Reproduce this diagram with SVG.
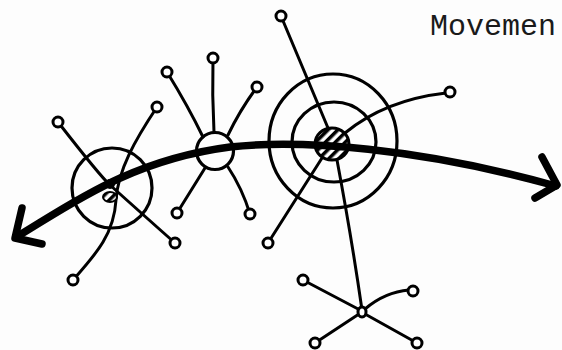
<svg xmlns="http://www.w3.org/2000/svg" width="562" height="350" viewBox="0 0 562 350">
<style>
.ln{fill:none;stroke:#000;stroke-width:3;stroke-linecap:round;stroke-linejoin:round}
.ring{fill:none;stroke:#000;stroke-width:3.2}
.end{fill:#fff;stroke:#000;stroke-width:3}
.main{fill:none;stroke:#000;stroke-width:7.5;stroke-linecap:round;stroke-linejoin:round}
.txt{font-family:"Liberation Mono","Courier New",monospace;font-size:30px;fill:#1a1a1a}
</style>
<defs>
<pattern id="hatch" width="7" height="7" patternUnits="userSpaceOnUse" patternTransform="rotate(45)">
<rect width="7" height="7" fill="#fff"/>
<rect width="3.5" height="7" fill="#000"/>
</pattern>
</defs>
<rect width="562" height="350" fill="#fdfdfd"/>
<text class="txt" x="430" y="35">Movemen</text>

<g id="connectors">
<path class="ln" d="M58,122 Q100,176 110,185 Q140,212 175,243"/>
<path class="ln" d="M157,107 C135,140 118,170 116,200 C114,235 95,255 73,280"/>
<path class="ln" d="M167,72 Q188,106 203,137"/>
<path class="ln" d="M213,58 Q212,95 214,132"/>
<path class="ln" d="M257,87 Q240,110 228,135"/>
<path class="ln" d="M205,168 Q190,192 177,213"/>
<path class="ln" d="M228,167 Q242,188 250,214"/>
<path class="ln" d="M281,16 L328,128"/>
<path class="ln" d="M345,133 Q385,100 446,93"/>
<path class="ln" d="M322,158 L268,243"/>
<path class="ln" d="M337,160 Q352,240 362,310"/>
<path class="ln" d="M360,310 L303,280"/>
<path class="ln" d="M365,309 Q385,292 409,290"/>
<path class="ln" d="M359,314 L315,343"/>
<path class="ln" d="M365,314 L417,343"/>
</g>

<g id="nodeA">
<circle class="ring" cx="112" cy="188" r="40"/>
<ellipse cx="110" cy="197" rx="7" ry="5" fill="url(#hatch)" stroke="#000" stroke-width="2"/>
<circle cx="110" cy="184" r="5" fill="#000"/>
<circle class="end" cx="58" cy="122" r="5"/>
<circle class="end" cx="157" cy="107" r="5"/>
<circle class="end" cx="175" cy="243" r="5"/>
<circle class="end" cx="73" cy="280" r="5"/>
</g>

<g id="nodeB">
<ellipse class="ring" cx="215" cy="151" rx="18.5" ry="18.5"/>
<circle class="end" cx="167" cy="72" r="5"/>
<circle class="end" cx="213" cy="58" r="5"/>
<circle class="end" cx="257" cy="87" r="5"/>
<circle class="end" cx="177" cy="213" r="5"/>
<circle class="end" cx="250" cy="214" r="5"/>
</g>

<g id="nodeC">
<ellipse class="ring" cx="333" cy="141" rx="64" ry="67"/>
<ellipse class="ring" cx="334" cy="142" rx="42" ry="40"/>
<ellipse cx="332" cy="144" rx="17" ry="16" fill="url(#hatch)" stroke="#000" stroke-width="3"/>
<circle class="end" cx="281" cy="16" r="5"/>
<circle class="end" cx="450" cy="92" r="5"/>
<circle class="end" cx="268" cy="243" r="5"/>
</g>

<g id="nodeD">
<ellipse cx="362" cy="312" rx="4" ry="5" fill="#fff" stroke="#000" stroke-width="3"/>
<circle class="end" cx="303" cy="280" r="5"/>
<circle class="end" cx="413" cy="291" r="5"/>
<circle class="end" cx="315" cy="343" r="5"/>
<circle class="end" cx="417" cy="343" r="5"/>
</g>

<g id="movement-arrow">
<path class="main" d="M18,236 C70,205 130,160 230,147 C300,139 420,148 556,186"/>
<path class="main" d="M22,208 L15,238 L42,244"/>
<path class="main" d="M542,157 L557,185 L535,198"/>
</g>
</svg>
